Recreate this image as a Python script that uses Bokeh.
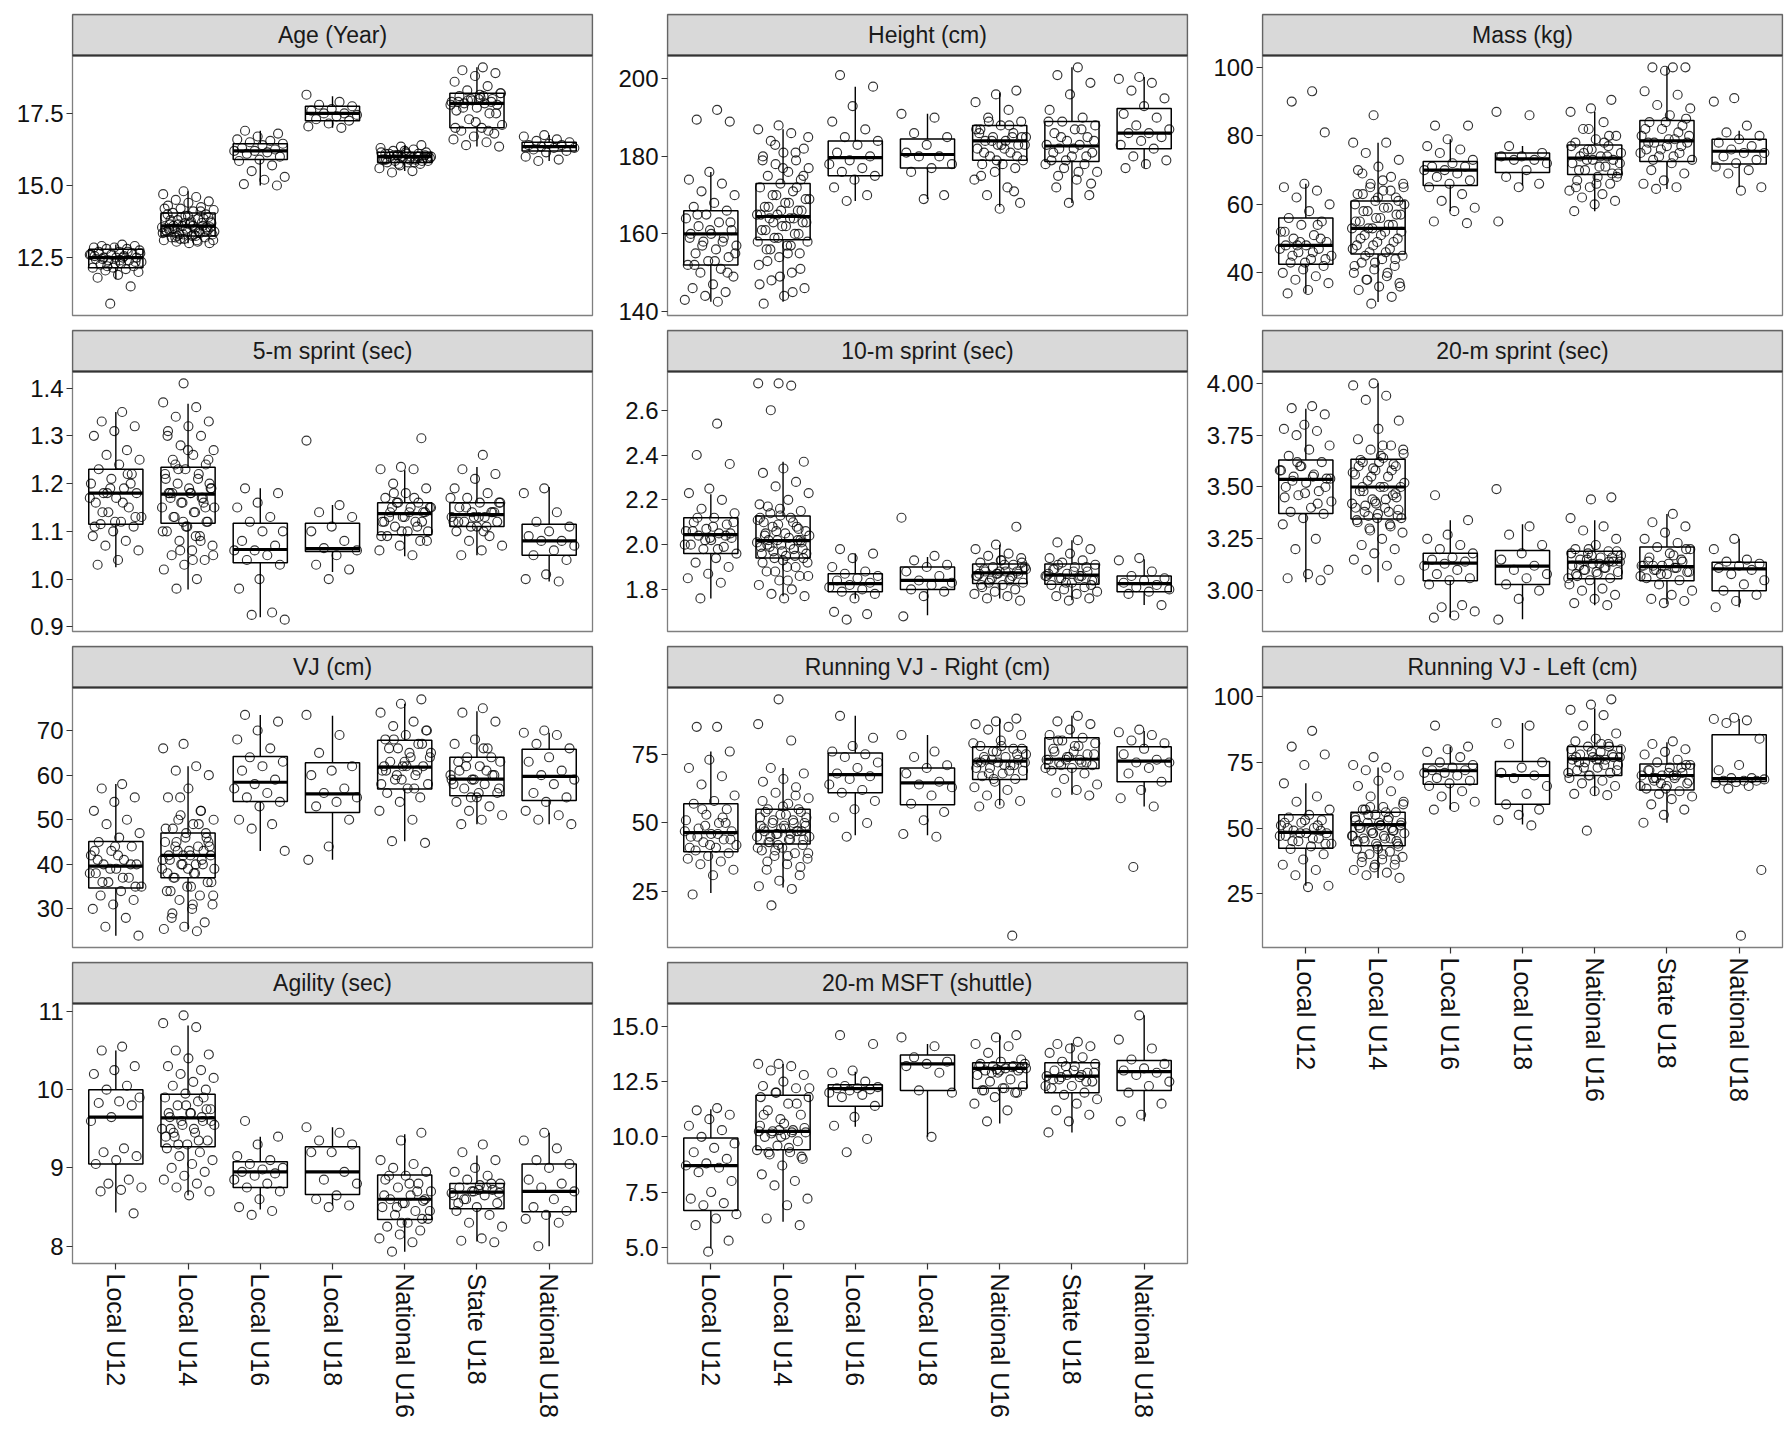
import math
from bokeh.plotting import figure
from bokeh.layouts import row, column
from bokeh.models import Range1d, FixedTicker
from bokeh.core.properties import value
from bokeh.embed import file_html
from bokeh.resources import INLINE

groups = ["Local U12", "Local U14", "Local U16", "Local U18", "National U16", "State U18", "National U18"]
group_pos = [1, 2, 3, 4, 5, 6, 7]

# ---------------- Age ----------------
age_title = "Age (Year)"
age_q1 = [12.15, 13.25, 15.9, 17.25, 15.8, 17.0, 16.2]
age_med = [12.5, 13.6, 16.2, 17.5, 16.0, 17.85, 16.35]
age_q3 = [12.79, 14.05, 16.45, 17.75, 16.15, 18.2, 16.5]
age_lo = [11.75, 13.0, 15.0, 17.0, 15.5, 16.35, 15.85]
age_hi = [12.95, 14.8, 16.9, 18.1, 16.4, 19.1, 16.75]
age_pts = [
    [12.95, 12.9, 12.9, 12.85, 12.85, 12.8, 12.8, 12.75, 12.7, 12.7, 12.65, 12.6, 12.6, 12.55, 12.5, 12.5, 12.5, 12.45, 12.4, 12.4, 12.35, 12.3, 12.25, 12.2, 12.15, 12.15, 12.1, 12.05, 12.0, 11.9, 11.8, 11.5, 10.9],
    [14.8, 14.7, 14.6, 14.5, 14.45, 14.4, 14.3, 14.25, 14.2, 14.15, 14.1, 14.05, 14.0, 13.95, 13.9, 13.85, 13.8, 13.75, 13.7, 13.65, 13.6, 13.6, 13.55, 13.5, 13.5, 13.45, 13.4, 13.4, 13.35, 13.3, 13.3, 13.25, 13.2, 13.2, 13.15, 13.1, 13.1, 13.05, 13.0, 13.0, 13.5, 13.7, 13.9, 13.4, 13.3],
    [16.9, 16.8, 16.7, 16.6, 16.55, 16.5, 16.45, 16.4, 16.3, 16.25, 16.2, 16.2, 16.15, 16.1, 16.0, 15.9, 15.85, 15.7, 15.5, 15.3, 15.2, 15.05, 15.0],
    [18.15, 17.9, 17.8, 17.75, 17.65, 17.6, 17.5, 17.5, 17.45, 17.4, 17.3, 17.25, 17.15, 17.05, 17.0],
    [16.4, 16.35, 16.3, 16.25, 16.2, 16.15, 16.15, 16.1, 16.1, 16.05, 16.0, 16.0, 16.0, 15.95, 15.95, 15.9, 15.9, 15.85, 15.85, 15.8, 15.8, 15.75, 15.7, 15.6, 15.5, 15.45, 16.05, 16.2, 15.9],
    [19.1, 19.0, 18.9, 18.8, 18.6, 18.45, 18.3, 18.2, 18.15, 18.1, 18.0, 17.95, 17.9, 17.85, 17.85, 17.8, 17.7, 17.6, 17.5, 17.3, 17.1, 17.0, 16.9, 16.8, 16.7, 16.6, 16.5, 16.4, 16.35, 18.0, 17.9],
    [16.75, 16.7, 16.6, 16.55, 16.5, 16.45, 16.4, 16.4, 16.35, 16.3, 16.3, 16.25, 16.2, 16.15, 16.0, 15.9, 15.85],
]
age_extra = [
    [12.6, 12.5, 12.45, 12.35, 12.3, 12.55, 12.7, 12.2, 12.65, 12.4],
    [13.6, 13.55, 13.5, 13.45, 13.4, 13.65, 13.7, 13.75, 13.8, 13.85, 13.3, 13.35, 13.25, 13.2, 13.9, 13.95, 14.0, 14.1, 13.15, 13.1, 13.6, 13.5, 13.4, 13.7, 14.2, 13.05, 13.25, 13.55, 13.65, 13.45],
    [], [],
    [16.0, 16.05, 15.95, 15.9, 16.1, 15.85, 16.0, 16.15, 15.8, 16.05, 15.95, 16.1, 15.9, 16.0, 15.75],
    [17.9, 18.0, 17.8, 18.1, 17.7, 17.5, 17.2, 17.0, 16.9, 17.95, 18.2, 18.05],
    [],
]
age_ticks = [12.5, 15.0, 17.5]
age_labels = ["12.5", "15.0", "17.5"]

# ---------------- Height ----------------
hgt_title = "Height (cm)"
hgt_q1 = [152, 158.5, 175, 177, 179, 178.7, 182]
hgt_med = [160, 164.5, 179.7, 180.5, 184, 182.7, 186]
hgt_q3 = [166, 173, 184, 184.5, 188, 189, 192.4]
hgt_lo = [142.5, 142.5, 168.5, 169, 167, 168, 177]
hgt_hi = [176, 187, 198, 191, 196.5, 203, 200.5]
hgt_pts = [
    [192, 189.5, 189, 176, 174, 173, 171, 170, 168, 167, 166, 165, 164, 163, 162, 161, 160, 160, 159, 158, 157, 156, 155, 154, 153, 152, 151, 150, 149, 147, 146, 145, 144, 143, 142.5],
    [188, 187, 186, 184, 182, 181, 180, 179, 178, 177, 176, 175, 174, 173, 172, 171, 170, 169, 168, 167, 166, 165, 165, 164, 164, 163, 162, 161, 160, 159, 158, 157, 156, 155, 154, 152, 150, 148, 146, 144, 142],
    [201, 198, 193, 189, 187, 185, 184, 183, 181, 180, 179, 178, 177, 176, 175, 174, 172, 170, 168.5],
    [191, 190, 186, 185, 183, 181, 180, 180, 178, 177, 176, 170, 169],
    [197, 196, 194, 192, 190, 189, 188, 187, 186, 185, 185, 184, 184, 183, 183, 182, 181, 180, 179, 178, 178, 177, 176, 174, 172, 170, 168, 166.5],
    [203, 201, 199, 196, 192, 190, 189, 188, 187, 186, 185, 184, 183, 183, 182, 181, 180, 179, 178, 177, 176, 174, 172, 170, 168],
    [200.5, 200, 199, 197, 195, 193, 191, 190, 188, 187, 186, 186, 185, 184, 183, 182, 180, 179, 178, 177],
]
hgt_extra = [
    [165, 163, 161, 159, 158, 157, 155, 153, 152, 150],
    [172, 170, 169, 168, 167, 166, 166, 165, 164, 163, 163, 162, 161, 160, 159, 158, 157, 156, 175, 177, 179, 181, 183, 185, 155, 153, 151, 149, 147, 145],
    [], [],
    [186, 185, 184, 183, 182, 181, 180, 179, 187, 188, 189, 185, 183, 175, 171],
    [189, 187, 185, 184, 182, 181, 180, 179, 178, 176, 175, 173],
    [],
]
hgt_ticks = [140, 160, 180, 200]
hgt_labels = ["140", "160", "180", "200"]

# ---------------- Mass ----------------
mas_title = "Mass (kg)"
mas_q1 = [42.5, 45.5, 65.5, 69.3, 68.7, 72.5, 71.8]
mas_med = [48, 53, 70, 73.3, 73.5, 78.5, 75.5]
mas_q3 = [56, 61, 72.5, 75, 77.3, 84.5, 79]
mas_lo = [34, 31.5, 58, 65.5, 58, 64.5, 65]
mas_hi = [66, 78, 79, 77, 87, 100, 81.5]
mas_pts = [
    [93, 90, 81, 66, 65, 64, 62, 60, 58, 56, 55, 54, 52, 51, 50, 49, 48, 48, 47, 46, 45, 44, 43, 42, 41, 40, 39, 38, 37, 35, 34],
    [86, 78, 78, 75, 73, 71, 70, 68, 66, 65, 64, 63, 62, 61, 60, 59, 58, 57, 56, 55, 54, 53, 53, 52, 51, 50, 49, 48, 47, 46, 45, 44, 43, 42, 41, 40, 39, 38, 37, 36, 35, 33, 31],
    [83, 83, 79, 77, 76, 75, 73, 72, 71, 71, 70, 70, 69, 68, 67, 66, 65, 63, 61, 59, 58, 55, 54.5],
    [87, 86, 77, 75, 74, 74, 73, 73, 72, 70, 68, 66, 65, 55],
    [90.5, 88, 87, 84, 82, 80, 79, 78, 77, 76, 75, 74, 74, 73, 73, 72, 71, 70, 69, 68, 67, 66, 65, 64, 63, 62, 61, 60, 58],
    [100, 100, 100, 99, 93, 92, 89, 88, 86, 84, 83, 82, 80, 79, 78, 78, 77, 76, 75, 74, 73, 72, 70, 69, 67, 66, 65, 64.5],
    [91, 90, 83, 81, 80, 79, 78, 77, 76, 75, 75, 74, 73, 72, 71, 70, 69, 65, 64],
]
mas_extra = [
    [50, 49, 47, 46, 45, 44, 43, 52, 54, 48],
    [60, 59, 58, 57, 56, 55, 54, 53, 52, 51, 50, 49, 48, 47, 46, 45, 61, 62, 63, 64, 65, 66, 67, 69, 44, 43, 42, 40, 38, 36],
    [], [],
    [74, 73, 72, 71, 70, 69, 76, 77, 78, 75, 68, 66, 65, 80, 82],
    [80, 79, 78, 77, 76, 75, 74, 73, 85, 84, 82, 81],
    [],
]
mas_ticks = [40, 60, 80, 100]
mas_labels = ["40", "60", "80", "100"]

# ---------------- 5-m sprint ----------------
s5_title = "5-m sprint (sec)"
s5_q1 = [1.115, 1.117, 1.034, 1.058, 1.093, 1.11, 1.05]
s5_med = [1.18, 1.178, 1.062, 1.064, 1.137, 1.135, 1.08]
s5_q3 = [1.23, 1.234, 1.117, 1.117, 1.16, 1.16, 1.115]
s5_lo = [1.025, 0.978, 0.92, 1.015, 1.048, 1.05, 0.995]
s5_hi = [1.35, 1.367, 1.19, 1.155, 1.228, 1.235, 1.193]
s5_pts = [
    [1.35, 1.33, 1.32, 1.31, 1.30, 1.27, 1.26, 1.25, 1.24, 1.23, 1.22, 1.21, 1.20, 1.19, 1.18, 1.18, 1.17, 1.16, 1.15, 1.14, 1.13, 1.12, 1.115, 1.11, 1.10, 1.09, 1.08, 1.07, 1.06, 1.04, 1.03],
    [1.41, 1.37, 1.36, 1.34, 1.33, 1.32, 1.31, 1.30, 1.28, 1.27, 1.26, 1.25, 1.24, 1.23, 1.22, 1.21, 1.20, 1.19, 1.18, 1.18, 1.17, 1.16, 1.15, 1.14, 1.13, 1.12, 1.11, 1.10, 1.09, 1.08, 1.07, 1.06, 1.05, 1.04, 1.03, 1.02, 1.00, 0.98],
    [1.19, 1.18, 1.16, 1.15, 1.13, 1.12, 1.10, 1.10, 1.08, 1.07, 1.06, 1.06, 1.05, 1.04, 1.03, 1.00, 0.98, 0.93, 0.925, 0.915],
    [1.29, 1.155, 1.14, 1.13, 1.11, 1.10, 1.08, 1.065, 1.06, 1.05, 1.03, 1.02, 1.00],
    [1.295, 1.235, 1.23, 1.23, 1.20, 1.19, 1.18, 1.17, 1.16, 1.16, 1.15, 1.15, 1.14, 1.14, 1.13, 1.12, 1.12, 1.11, 1.10, 1.10, 1.09, 1.08, 1.07, 1.06, 1.05],
    [1.26, 1.23, 1.22, 1.21, 1.19, 1.18, 1.17, 1.16, 1.16, 1.15, 1.14, 1.14, 1.13, 1.13, 1.12, 1.12, 1.11, 1.10, 1.09, 1.08, 1.07, 1.06, 1.05],
    [1.19, 1.18, 1.14, 1.12, 1.11, 1.10, 1.09, 1.08, 1.08, 1.07, 1.06, 1.05, 1.04, 1.01, 1.00, 0.995],
]
s5_extra = [
    [1.2, 1.19, 1.17, 1.16, 1.14, 1.13, 1.12, 1.11, 1.22, 1.18],
    [1.2, 1.19, 1.18, 1.17, 1.16, 1.15, 1.14, 1.13, 1.12, 1.11, 1.21, 1.22, 1.23, 1.19, 1.18, 1.17, 1.16, 1.12, 1.10, 1.09, 1.24, 1.25, 1.27, 1.3, 1.08, 1.06, 1.05, 1.04, 1.18, 1.15],
    [], [],
    [1.15, 1.14, 1.13, 1.12, 1.11, 1.16, 1.15, 1.14, 1.13, 1.12, 1.1, 1.09, 1.17, 1.18, 1.08],
    [1.14, 1.13, 1.12, 1.11, 1.15, 1.16, 1.13, 1.12, 1.14, 1.11, 1.17, 1.1],
    [],
]
s5_ticks = [0.9, 1.0, 1.1, 1.2, 1.3, 1.4]
s5_labels = ["0.9", "1.0", "1.1", "1.2", "1.3", "1.4"]

# ---------------- 10-m sprint ----------------
s10_title = "10-m sprint (sec)"
s10_q1 = [1.96, 1.94, 1.79, 1.80, 1.826, 1.823, 1.79]
s10_med = [2.045, 2.018, 1.826, 1.84, 1.874, 1.864, 1.826]
s10_q3 = [2.12, 2.128, 1.87, 1.90, 1.914, 1.914, 1.86]
s10_lo = [1.76, 1.77, 1.758, 1.685, 1.76, 1.752, 1.73]
s10_hi = [2.225, 2.37, 1.96, 1.945, 2.0, 2.02, 1.935]
s10_pts = [
    [2.54, 2.40, 2.36, 2.25, 2.23, 2.2, 2.16, 2.14, 2.12, 2.1, 2.09, 2.07, 2.06, 2.05, 2.04, 2.03, 2.02, 2.0, 1.99, 1.98, 1.96, 1.94, 1.92, 1.9, 1.87, 1.85, 1.83, 1.76],
    [2.72, 2.72, 2.71, 2.60, 2.37, 2.34, 2.32, 2.28, 2.26, 2.23, 2.2, 2.17, 2.15, 2.13, 2.12, 2.1, 2.08, 2.06, 2.05, 2.04, 2.02, 2.02, 2.01, 2.0, 1.99, 1.98, 1.97, 1.96, 1.95, 1.94, 1.92, 1.9, 1.88, 1.86, 1.84, 1.82, 1.8, 1.78, 1.77, 1.76],
    [1.98, 1.96, 1.94, 1.9, 1.88, 1.87, 1.86, 1.85, 1.84, 1.83, 1.82, 1.81, 1.8, 1.79, 1.78, 1.76, 1.7, 1.69, 1.665],
    [2.12, 1.95, 1.93, 1.91, 1.9, 1.88, 1.86, 1.84, 1.83, 1.82, 1.8, 1.79, 1.77, 1.68],
    [2.08, 2.0, 1.98, 1.96, 1.95, 1.94, 1.93, 1.92, 1.91, 1.9, 1.89, 1.88, 1.88, 1.87, 1.87, 1.86, 1.85, 1.84, 1.83, 1.82, 1.81, 1.8, 1.79, 1.78, 1.77, 1.76, 1.75],
    [2.02, 2.01, 1.98, 1.96, 1.94, 1.93, 1.92, 1.91, 1.9, 1.89, 1.88, 1.87, 1.86, 1.86, 1.85, 1.84, 1.83, 1.82, 1.81, 1.8, 1.79, 1.78, 1.77, 1.76, 1.75],
    [1.94, 1.93, 1.88, 1.86, 1.85, 1.84, 1.83, 1.82, 1.81, 1.8, 1.79, 1.78, 1.73],
]
s10_extra = [
    [2.1, 2.08, 2.06, 2.04, 2.02, 2.0, 1.98, 2.12, 2.05, 2.03],
    [2.1, 2.08, 2.06, 2.04, 2.03, 2.02, 2.01, 2.0, 1.99, 1.98, 1.97, 1.96, 1.95, 2.05, 2.07, 2.09, 2.11, 2.12, 2.14, 1.94, 1.93, 1.92, 1.9, 1.88, 1.86, 1.84, 2.0, 2.02, 2.16, 2.18],
    [], [],
    [1.88, 1.87, 1.86, 1.85, 1.9, 1.91, 1.89, 1.88, 1.87, 1.86, 1.84, 1.83, 1.92, 1.93, 1.82],
    [1.87, 1.86, 1.85, 1.84, 1.88, 1.89, 1.9, 1.83, 1.86, 1.85, 1.91, 1.82],
    [],
]
s10_ticks = [1.8, 2.0, 2.2, 2.4, 2.6]
s10_labels = ["1.8", "2.0", "2.2", "2.4", "2.6"]

# ---------------- 20-m sprint ----------------
s20_title = "20-m sprint (sec)"
s20_q1 = [3.372, 3.345, 3.048, 3.03, 3.057, 3.048, 3.0]
s20_med = [3.537, 3.5, 3.133, 3.118, 3.138, 3.116, 3.105]
s20_q3 = [3.63, 3.634, 3.18, 3.194, 3.19, 3.21, 3.137]
s20_lo = [3.04, 3.04, 2.87, 2.862, 2.93, 2.935, 2.92]
s20_hi = [3.877, 4.0, 3.34, 3.32, 3.34, 3.37, 3.25]
s20_pts = [
    [3.89, 3.88, 3.85, 3.8, 3.78, 3.77, 3.75, 3.7, 3.68, 3.65, 3.62, 3.6, 3.58, 3.56, 3.55, 3.54, 3.52, 3.5, 3.48, 3.46, 3.43, 3.4, 3.38, 3.37, 3.35, 3.32, 3.25, 3.2, 3.1, 3.08, 3.06, 3.05],
    [4.0, 3.99, 3.94, 3.92, 3.82, 3.78, 3.73, 3.7, 3.68, 3.66, 3.64, 3.62, 3.6, 3.58, 3.56, 3.55, 3.53, 3.5, 3.5, 3.48, 3.46, 3.44, 3.42, 3.4, 3.38, 3.36, 3.35, 3.34, 3.32, 3.3, 3.28, 3.25, 3.22, 3.2, 3.18, 3.15, 3.12, 3.1, 3.05],
    [3.46, 3.34, 3.27, 3.25, 3.22, 3.2, 3.18, 3.16, 3.15, 3.14, 3.13, 3.12, 3.1, 3.08, 3.06, 3.05, 3.03, 2.93, 2.92, 2.9, 2.88, 2.87],
    [3.49, 3.31, 3.27, 3.22, 3.18, 3.15, 3.12, 3.1, 3.08, 3.06, 3.03, 3.0, 2.96, 2.86],
    [3.45, 3.44, 3.35, 3.31, 3.29, 3.25, 3.22, 3.2, 3.19, 3.18, 3.17, 3.16, 3.15, 3.14, 3.13, 3.12, 3.11, 3.1, 3.09, 3.08, 3.07, 3.06, 3.05, 3.03, 3.01, 3.0, 2.98, 2.96, 2.94, 2.93],
    [3.37, 3.33, 3.31, 3.28, 3.25, 3.23, 3.21, 3.2, 3.18, 3.16, 3.14, 3.12, 3.12, 3.11, 3.1, 3.09, 3.08, 3.06, 3.05, 3.03, 3.0, 2.98, 2.96, 2.95, 2.94],
    [3.25, 3.2, 3.15, 3.14, 3.13, 3.12, 3.11, 3.1, 3.08, 3.05, 3.03, 3.0, 2.98, 2.95, 2.92],
]
s20_extra = [
    [3.6, 3.58, 3.55, 3.53, 3.5, 3.47, 3.45, 3.42, 3.62, 3.54],
    [3.62, 3.6, 3.58, 3.55, 3.52, 3.5, 3.48, 3.45, 3.42, 3.4, 3.38, 3.36, 3.35, 3.65, 3.63, 3.61, 3.59, 3.57, 3.44, 3.41, 3.39, 3.37, 3.33, 3.31, 3.29, 3.68, 3.7, 3.5, 3.47, 3.43],
    [], [],
    [3.15, 3.14, 3.13, 3.12, 3.16, 3.17, 3.18, 3.11, 3.1, 3.19, 3.09, 3.08, 3.14, 3.2, 3.06],
    [3.12, 3.11, 3.1, 3.09, 3.13, 3.14, 3.15, 3.08, 3.07, 3.17, 3.12, 3.2],
    [],
]
s20_ticks = [3.0, 3.25, 3.5, 3.75, 4.0]
s20_labels = ["3.00", "3.25", "3.50", "3.75", "4.00"]

# ---------------- VJ ----------------
vj_title = "VJ (cm)"
vj_q1 = [34.7, 37, 54.1, 51.6, 56.9, 55.4, 54.3]
vj_med = [39.6, 42, 58.4, 55.8, 61.8, 59.1, 59.7]
vj_q3 = [45.1, 47, 64.2, 62.8, 67.8, 64, 65.8]
vj_lo = [24, 25.5, 43, 41, 45.2, 49, 49]
vj_hi = [58, 62, 73.5, 73.3, 76, 74.3, 69.5]
vj_pts = [
    [58, 57, 55, 54, 52, 50, 49, 47, 46, 45, 44, 43, 42, 41, 40, 40, 39, 38, 37, 36, 35, 34, 33, 32, 31, 30, 28, 26, 24],
    [67, 66, 62, 61, 60, 57, 55, 52, 51, 50, 49, 48, 47, 46, 45, 44, 43, 42, 42, 41, 40, 40, 39, 38, 37, 36, 35, 34, 33, 32, 31, 30, 28, 27, 26, 25.5, 25],
    [73.5, 72, 70, 68, 66, 64, 63, 62, 61, 59, 58, 57, 56, 55, 54, 53, 50, 49, 48, 43],
    [73.5, 69, 65, 62, 61, 60, 57, 56, 55, 54, 53, 50, 44, 41],
    [77, 76, 74, 72, 71, 70, 69, 68, 67, 66, 65, 64, 63, 62, 62, 61, 60, 59, 58, 57, 56, 55, 54, 52, 50, 45.2, 44.8],
    [75, 74, 72, 68, 67, 66, 64, 63, 62, 61, 60, 59, 59, 58, 57, 56, 55, 54, 53, 52, 51, 50, 49],
    [70, 69.5, 69, 67, 66, 64, 63, 61, 60, 59, 58, 56, 55, 54, 52, 51, 50, 49],
]
vj_extra = [
    [42, 41, 40, 39, 38, 37, 36, 35, 44, 43],
    [45, 44, 43, 42, 41, 40, 39, 38, 37, 46, 47, 48, 49, 50, 36, 35, 34, 43, 42, 41, 40, 44, 45, 39, 38, 52, 55, 33, 31, 29],
    [], [],
    [63, 62, 61, 60, 64, 65, 66, 67, 59, 58, 57, 68, 70, 62, 61],
    [60, 59, 58, 61, 62, 57, 56, 63, 64, 55, 60, 66],
    [],
]
vj_ticks = [30, 40, 50, 60, 70]
vj_labels = ["30", "40", "50", "60", "70"]

# ---------------- Running VJ - Right ----------------
rvr_title = "Running VJ - Right (cm)"
rvr_q1 = [39.5, 42.4, 61, 56.6, 65.8, 69.8, 65]
rvr_med = [46.5, 47, 67.6, 64.6, 72.5, 73.2, 72.5]
rvr_q3 = [57, 55, 75.5, 70, 77.7, 81, 77.7]
rvr_lo = [24.5, 26.5, 45.5, 45.5, 56.5, 60.3, 56]
rvr_hi = [76, 70, 89, 82, 88, 89, 83.5]
rvr_pts = [
    [85, 85, 76, 73, 70, 67, 64, 60, 58, 57, 55, 53, 51, 50, 48, 47, 46, 45, 44, 43, 42, 41, 40, 39, 38, 37, 36, 35, 33, 31, 24],
    [95, 86, 80, 70, 68, 66, 65, 63, 61, 59, 57, 55, 54, 53, 52, 51, 50, 49, 48, 47, 47, 46, 45, 44, 43, 42, 41, 40, 39, 38, 37, 35, 33, 31, 29, 27, 26, 20],
    [89, 81, 78, 76, 75, 74, 72, 70, 68, 67, 66, 64, 62, 61, 58, 55, 52, 50, 45],
    [82, 76, 74, 71, 70, 68, 65, 64, 63, 60, 57, 54, 51, 46, 45],
    [88, 87, 86, 85, 84, 82, 80, 78, 77, 76, 75, 74, 73, 73, 72, 72, 71, 70, 69, 68, 67, 66, 65, 63, 62, 60, 58, 57, 56, 9],
    [89, 87, 86, 84, 82, 81, 80, 79, 78, 76, 75, 74, 73, 73, 72, 71, 70, 69, 68, 66, 64, 62, 61, 60],
    [84, 83, 82, 80, 79, 77, 75, 73, 72, 72, 70, 68, 65, 62, 59, 56, 34],
]
rvr_extra = [
    [50, 49, 47, 46, 45, 44, 42, 41, 52, 55],
    [50, 49, 48, 47, 46, 45, 44, 43, 47, 48, 49, 50, 51, 52, 53, 54, 55, 42, 41, 46, 45, 44, 56, 58, 60, 40, 39, 38, 36, 34],
    [], [],
    [73, 72, 71, 74, 75, 76, 70, 69, 68, 77, 78, 72, 71, 66, 79],
    [74, 73, 72, 71, 75, 76, 77, 72, 73, 70, 78, 80],
    [],
]
rvr_ticks = [25, 50, 75]
rvr_labels = ["25", "50", "75"]

# ---------------- Running VJ - Left ----------------
rvl_title = "Running VJ - Left (cm)"
rvl_q1 = [42.3, 43.2, 66.7, 59, 70, 64.5, 67.7]
rvl_med = [48.3, 51.3, 71.8, 70, 76.3, 70, 68.8]
rvl_q3 = [55, 56, 74.4, 75.3, 81, 74.4, 85.5]
rvl_lo = [28, 31, 57, 51.3, 62.4, 52, 67.5]
rvl_hi = [67, 73, 81, 90, 95.5, 82.7, 91.5]
rvl_pts = [
    [87, 81, 78, 74, 67, 62, 60, 57, 55, 54, 53, 52, 51, 50, 49, 48, 48, 47, 46, 45, 44, 43, 42, 40, 38, 36, 34, 32, 28, 27.5],
    [77, 74, 73, 72, 70, 68, 66, 64, 62, 60, 58, 57, 56, 55, 54, 53, 52, 51, 51, 50, 49, 48, 47, 46, 45, 44, 43, 42, 41, 40, 39, 38, 37, 36, 35, 34, 33, 32, 31],
    [89, 81, 80, 79, 77, 75, 74, 73, 72, 72, 71, 71, 70, 69, 68, 67, 66, 64, 62, 60, 58, 57],
    [90, 89, 82, 75, 73, 71, 70, 69, 66, 63, 59, 57, 55, 53, 51],
    [99, 97, 95, 93, 89, 86, 84, 83, 82, 81, 80, 79, 78, 77, 77, 76, 76, 75, 74, 73, 72, 71, 70, 69, 68, 67, 66, 64, 63, 62.5, 49],
    [83, 82, 80, 79, 78, 76, 75, 74, 73, 72, 71, 70, 70, 69, 68, 67, 66, 65, 64, 63, 62, 61, 59, 57, 55, 52],
    [92, 91.5, 91, 90, 84, 74, 72, 69, 69, 68.5, 68, 68, 68, 67.5, 67, 66, 65, 34, 9],
]
rvl_extra = [
    [50, 49, 48, 47, 46, 45, 44, 53, 52, 51],
    [52, 51, 50, 49, 48, 47, 46, 45, 44, 53, 54, 55, 52, 51, 50, 49, 48, 47, 56, 57, 43, 42, 45, 46, 58, 59, 40, 39, 38, 36],
    [], [],
    [77, 76, 75, 78, 79, 80, 74, 73, 72, 76, 77, 81, 70, 71, 82],
    [70, 69, 68, 71, 72, 73, 67, 66, 70, 69, 74, 65],
    [],
]
rvl_ticks = [25, 50, 75, 100]
rvl_labels = ["25", "50", "75", "100"]

# ---------------- Agility ----------------
agi_title = "Agility (sec)"
agi_q1 = [9.05, 9.27, 8.75, 8.66, 8.34, 8.48, 8.44]
agi_med = [9.65, 9.64, 8.95, 8.95, 8.6, 8.69, 8.7]
agi_q3 = [10.0, 9.94, 9.08, 9.27, 8.91, 8.8, 9.05]
agi_lo = [8.43, 8.65, 8.47, 8.52, 7.93, 8.06, 8.0]
agi_hi = [10.5, 10.82, 9.4, 9.52, 9.43, 9.16, 9.45]
agi_pts = [
    [10.55, 10.5, 10.3, 10.25, 10.2, 10.05, 10.0, 9.9, 9.85, 9.83, 9.8, 9.65, 9.6, 9.25, 9.2, 9.15, 9.1, 9.05, 8.85, 8.8, 8.75, 8.72, 8.7, 8.42],
    [10.95, 10.85, 10.8, 10.5, 10.45, 10.4, 10.3, 10.25, 10.2, 10.15, 10.1, 10.05, 10.0, 9.95, 9.9, 9.85, 9.8, 9.75, 9.7, 9.65, 9.6, 9.55, 9.5, 9.45, 9.4, 9.35, 9.3, 9.25, 9.2, 9.15, 9.1, 9.05, 9.0, 8.95, 8.9, 8.85, 8.8, 8.75, 8.7, 8.65],
    [9.6, 9.4, 9.3, 9.15, 9.1, 9.05, 9.0, 8.98, 8.95, 8.93, 8.9, 8.85, 8.8, 8.75, 8.7, 8.6, 8.5, 8.45, 8.4],
    [9.52, 9.45, 9.35, 9.3, 9.2, 9.2, 8.95, 8.85, 8.8, 8.65, 8.6, 8.52, 8.5],
    [9.45, 9.35, 9.1, 9.05, 9.0, 8.95, 8.9, 8.85, 8.8, 8.75, 8.7, 8.65, 8.6, 8.58, 8.55, 8.5, 8.45, 8.4, 8.35, 8.3, 8.25, 8.2, 8.15, 8.1, 8.05, 7.93],
    [9.3, 9.2, 9.1, 9.0, 8.95, 8.9, 8.85, 8.8, 8.78, 8.75, 8.72, 8.7, 8.68, 8.65, 8.6, 8.55, 8.5, 8.45, 8.4, 8.3, 8.25, 8.1, 8.07, 8.05],
    [9.45, 9.35, 9.25, 9.1, 9.05, 9.0, 8.85, 8.8, 8.75, 8.7, 8.6, 8.5, 8.45, 8.4, 8.35, 8.3, 8.0],
]
agi_extra = [
    [],
    [9.7, 9.65, 9.6, 9.55, 9.5, 9.45, 9.75, 9.8, 9.4, 9.35, 9.3, 9.6, 9.7, 9.5, 9.9],
    [], [],
    [8.6, 8.55, 8.65, 8.7, 8.5, 8.45, 8.8, 8.9, 8.35, 8.3],
    [8.7, 8.65, 8.75, 8.6, 8.68, 8.72, 8.55, 8.8],
    [],
]
agi_ticks = [8, 9, 10, 11]
agi_labels = ["8", "9", "10", "11"]

# ---------------- 20-m MSFT ----------------
msf_title = "20-m MSFT (shuttle)"
msf_q1 = [6.66, 9.42, 11.38, 12.1, 12.2, 12.0, 12.1]
msf_med = [8.7, 10.25, 12.18, 13.3, 13.1, 12.75, 12.95]
msf_q3 = [9.95, 11.88, 12.36, 13.7, 13.35, 13.35, 13.45]
msf_lo = [4.95, 6.15, 10.45, 10.0, 10.6, 10.2, 10.7]
msf_hi = [11.25, 13.3, 12.95, 14.2, 14.6, 14.25, 15.5]
msf_pts = [
    [11.3, 11.2, 11.0, 10.8, 10.5, 10.3, 10.0, 9.7, 9.5, 9.3, 9.0, 8.8, 8.7, 8.6, 8.4, 8.0, 7.5, 7.2, 7.0, 6.9, 6.5, 6.3, 6.0, 5.3, 4.8],
    [13.3, 13.3, 13.2, 13.0, 12.8, 12.5, 12.3, 12.2, 12.0, 11.8, 11.5, 11.2, 11.0, 10.8, 10.5, 10.3, 10.25, 10.2, 10.1, 10.0, 9.8, 9.6, 9.4, 9.3, 9.2, 9.0, 8.7, 8.3, 8.0, 7.8, 7.2, 6.9, 6.3, 6.0],
    [14.6, 14.2, 13.0, 12.9, 12.5, 12.3, 12.25, 12.2, 12.2, 12.15, 12.1, 12.0, 11.9, 11.8, 11.4, 10.9, 10.5, 9.9, 9.3],
    [14.5, 14.1, 13.6, 13.4, 13.3, 13.2, 12.9, 12.1, 12.0, 10.0],
    [14.6, 14.5, 14.2, 14.1, 13.8, 13.5, 13.4, 13.3, 13.2, 13.2, 13.1, 13.1, 13.0, 13.0, 12.9, 12.8, 12.6, 12.5, 12.3, 12.2, 12.1, 12.0, 11.8, 11.5, 11.2, 10.7],
    [14.3, 14.2, 14.1, 14.0, 13.8, 13.6, 13.4, 13.3, 13.2, 13.0, 12.9, 12.8, 12.75, 12.7, 12.6, 12.5, 12.3, 12.2, 12.0, 11.9, 11.7, 11.5, 11.2, 11.0, 10.7, 10.2],
    [15.5, 14.4, 14.0, 13.5, 13.3, 13.1, 13.0, 12.9, 12.8, 12.5, 12.3, 12.0, 11.5, 11.0, 10.7],
]
msf_extra = [
    [],
    [10.3, 10.25, 10.2, 10.15, 10.4, 10.6, 11.0, 11.5, 12.0, 12.2, 9.5, 9.3, 9.1, 10.0, 11.8],
    [], [],
    [13.1, 13.0, 13.2, 13.15, 12.9, 13.3, 12.2, 12.1, 12.0, 13.05],
    [12.8, 12.7, 12.9, 13.0, 12.6, 12.5, 13.2, 12.3],
    [],
]
msf_ticks = [5.0, 7.5, 10.0, 12.5, 15.0]
msf_labels = ["5.0", "7.5", "10.0", "12.5", "15.0"]

PANELS = [
    (age_title, age_q1, age_med, age_q3, age_lo, age_hi, age_pts, age_extra, age_ticks, age_labels),
    (hgt_title, hgt_q1, hgt_med, hgt_q3, hgt_lo, hgt_hi, hgt_pts, hgt_extra, hgt_ticks, hgt_labels),
    (mas_title, mas_q1, mas_med, mas_q3, mas_lo, mas_hi, mas_pts, mas_extra, mas_ticks, mas_labels),
    (s5_title, s5_q1, s5_med, s5_q3, s5_lo, s5_hi, s5_pts, s5_extra, s5_ticks, s5_labels),
    (s10_title, s10_q1, s10_med, s10_q3, s10_lo, s10_hi, s10_pts, s10_extra, s10_ticks, s10_labels),
    (s20_title, s20_q1, s20_med, s20_q3, s20_lo, s20_hi, s20_pts, s20_extra, s20_ticks, s20_labels),
    (vj_title, vj_q1, vj_med, vj_q3, vj_lo, vj_hi, vj_pts, vj_extra, vj_ticks, vj_labels),
    (rvr_title, rvr_q1, rvr_med, rvr_q3, rvr_lo, rvr_hi, rvr_pts, rvr_extra, rvr_ticks, rvr_labels),
    (rvl_title, rvl_q1, rvl_med, rvl_q3, rvl_lo, rvl_hi, rvl_pts, rvl_extra, rvl_ticks, rvl_labels),
    (agi_title, agi_q1, agi_med, agi_q3, agi_lo, agi_hi, agi_pts, agi_extra, agi_ticks, agi_labels),
    (msf_title, msf_q1, msf_med, msf_q3, msf_lo, msf_hi, msf_pts, msf_extra, msf_ticks, msf_labels),
]

# ---------------- layout / style ----------------
FONT = "Liberation Sans"
FRAME_W = 520
PANEL_H = 260
STRIP_H = 41
BOX_W = 0.75
JIT_W = 0.37
X_LO, X_HI = 0.4, 7.6


def jitter_offsets(n, start):
    g = 0.6180339887498949
    return [(((k + start) * g) % 1.0 - 0.5) * 2 * JIT_W for k in range(n)]


def make_panel(spec, show_x, left_border, right_border, top_border):
    title, q1, med, q3, lo_w, hi_w, pts0, extra, ticks, labels = spec
    pts = [a + b for a, b in zip(pts0, extra)]
    allv = [v for grp in pts for v in grp] + lo_w + hi_w
    vmin, vmax = min(allv), max(allv)
    span = vmax - vmin
    lo = vmin - 0.05 * span
    hi = vmax + 0.05 * span
    top = hi + (hi - lo) * STRIP_H / PANEL_H

    p = figure(
        frame_width=FRAME_W, frame_height=PANEL_H + STRIP_H,
        x_range=Range1d(X_LO, X_HI), y_range=Range1d(lo, top),
        output_backend="svg", toolbar_location=None,
        x_axis_location="below" if show_x else None,
        min_border_left=left_border, min_border_right=right_border,
        min_border_top=top_border, min_border_bottom=165 if show_x else 9,
    )
    p.background_fill_color = "white"
    p.border_fill_color = "white"
    p.outline_line_color = "#7f7f7f"
    p.outline_line_width = 1.3
    p.xgrid.visible = False
    p.ygrid.visible = False

    ya = p.yaxis[0]
    ya.ticker = FixedTicker(ticks=ticks, minor_ticks=[])
    ya.major_label_overrides = {float(t): l for t, l in zip(ticks, labels)}
    ya.axis_line_color = None
    ya.major_tick_out = 6
    ya.major_tick_in = 0
    ya.major_tick_line_color = "#333333"
    ya.major_tick_line_width = 1.2
    ya.minor_tick_line_color = None
    ya.major_label_standoff = 3
    ya.major_label_text_font = FONT
    ya.major_label_text_font_size = "24px"
    ya.major_label_text_color = "#111111"

    if show_x:
        xa = p.xaxis[0]
        xa.ticker = FixedTicker(ticks=group_pos, minor_ticks=[])
        xa.major_label_overrides = {float(x): g for x, g in zip(group_pos, groups)}
        xa.major_label_orientation = -math.pi / 2
        xa.axis_line_color = None
        xa.major_tick_out = 6
        xa.major_tick_in = 0
        xa.major_tick_line_color = "#333333"
        xa.major_tick_line_width = 1.2
        xa.minor_tick_line_color = None
        xa.major_label_standoff = 4
        xa.major_label_text_font = FONT
        xa.major_label_text_font_size = "25px"
        xa.major_label_text_color = "#111111"

    # whiskers
    p.segment(x0=group_pos, y0=q3, x1=group_pos, y1=hi_w, line_color="black", line_width=1.4)
    p.segment(x0=group_pos, y0=lo_w, x1=group_pos, y1=q1, line_color="black", line_width=1.4)
    # boxes
    p.quad(left=[x - BOX_W / 2 for x in group_pos], right=[x + BOX_W / 2 for x in group_pos],
           bottom=q1, top=q3, fill_color=None, line_color="black", line_width=1.5)
    # medians
    p.segment(x0=[x - BOX_W / 2 for x in group_pos], y0=med,
              x1=[x + BOX_W / 2 for x in group_pos], y1=med,
              line_color="black", line_width=3.2)
    # jittered points
    xs, ys = [], []
    for gi, grp in enumerate(pts):
        offs = jitter_offsets(len(grp), gi * 11 + 1)
        for v, o in zip(grp, offs):
            xs.append(group_pos[gi] + o)
            ys.append(v)
    p.scatter(x=xs, y=ys, marker="circle", size=9, fill_color=None,
              line_color="black", line_alpha=0.8, line_width=1.15)

    # strip
    p.quad(left=[X_LO], right=[X_HI], bottom=[hi], top=[top],
           fill_color="#d9d9d9", line_color="#333333", line_width=1.4)
    p.segment(x0=[X_LO], y0=[hi], x1=[X_HI], y1=[hi], line_color="#333333", line_width=2.2)
    p.text(x=[(X_LO + X_HI) / 2], y=[(hi + top) / 2], text=[title],
           text_align="center", text_baseline="middle",
           text_font=value(FONT), text_font_size="23px", text_color="#1a1a1a")
    return p


col_layout = [[0, 3, 6, 9], [1, 4, 7, 10], [2, 5, 8]]
cols = []
for ci, idxs in enumerate(col_layout):
    figs = []
    for ri, idx in enumerate(idxs):
        show_x = (ri == len(idxs) - 1)
        left_b = 72 if ci == 0 else 64
        right_b = 11 if ci < 2 else 2
        top_b = 14 if ri == 0 else 6
        figs.append(make_panel(PANELS[idx], show_x, left_b, right_b, top_b))
    cols.append(column(*figs, spacing=0))

page = row(*cols, spacing=0)

open("out.html", "w").write(file_html(page, INLINE))
